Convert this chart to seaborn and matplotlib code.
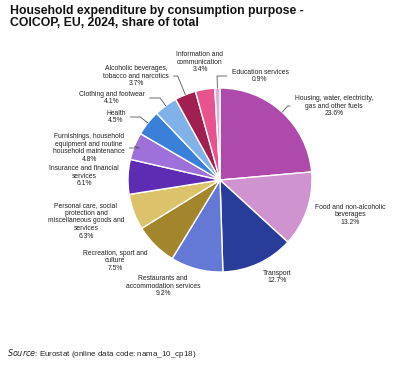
import numpy as np
import seaborn as sns
import matplotlib.pyplot as plt

# Data (clockwise from 12 o'clock)
categories = [
    "Housing, water, electricity,\ngas and other fuels",
    "Food and non-alcoholic\nbeverages",
    "Transport",
    "Restaurants and\naccommodation services",
    "Recreation, sport and\nculture",
    "Personal care, social\nprotection and\nmiscellaneous goods and\nservices",
    "Insurance and financial\nservices",
    "Furnishings, household\nequipment and routine\nhousehold maintenance",
    "Health",
    "Clothing and footwear",
    "Alcoholic beverages,\ntobacco and narcotics",
    "Information and\ncommunication",
    "Education services",
]
shares = [23.6, 13.2, 12.7, 9.2, 7.5, 6.3, 6.1, 4.8, 4.5, 4.1, 3.7, 3.4, 0.9]
colors = ["#ad4aab", "#cf93cf", "#283c99", "#6479d5", "#a3852c", "#dcc36b",
          "#5e2bb3", "#9e70da", "#3a7fd8", "#80b1e8", "#a11f50", "#e8528d",
          "#d9b0dc"]

# label centres in pixels (x, y from top) and whether a leader line is drawn
label_px = [(334, 106), (350, 215), (277, 277), (163, 286), (115, 261),
            (86, 221), (84, 176), (89, 148), (116, 117), (112, 98),
            (136, 76), (200, 62), (260, 76)]
leader = [True, False, False, False, False, False, False, True, True, True,
          True, False, True]

sns.set_theme(style="white")
plt.rcParams['font.family'] = ['Liberation Sans', 'DejaVu Sans']

W, H = 419, 365
cx, cy, R = 220, 180, 92
fs = 4.9

fig = plt.figure(figsize=(W / 100, H / 100), dpi=100)
ax = fig.add_axes([0, 0, 1, 1])

wedges, _ = ax.pie(shares, colors=colors, startangle=90, counterclock=False,
                   radius=1.0, wedgeprops=dict(edgecolor='white', linewidth=1))

ax.set_aspect('auto')
ax.set_xlim(-cx / R, (W - cx) / R)
ax.set_ylim((cy - H) / R, cy / R)
ax.axis('off')


def to_data(px, py):
    return (px - cx) / R, (cy - py) / R


for w, cat, val, (px, py), has_line in zip(wedges, categories, shares,
                                           label_px, leader):
    text = f"{cat}\n{val:.1f}%"
    tx, ty = to_data(px, py)
    if has_line:
        ang = np.deg2rad((w.theta1 + w.theta2) / 2)
        xy = (1.0 * np.cos(ang), 1.0 * np.sin(ang))
        right = tx < 0
        ax.annotate(text, xy=xy, xytext=(tx, ty), ha='center', va='center',
                    fontsize=fs, color='#222222', linespacing=1.15,
                    arrowprops=dict(arrowstyle='-', color='#555555', lw=0.6,
                                    shrinkA=1, shrinkB=0,
                                    relpos=(1.0, 0.5) if right else (0.0, 0.5),
                                    connectionstyle=f"angle,angleA=0,angleB={np.rad2deg(ang):.1f},rad=0"))
    else:
        ax.text(tx, ty, text, ha='center', va='center', fontsize=fs,
                color='#222222', linespacing=1.15)

fig.text(10 / W, 1 - 5 / H,
         "Household expenditure by consumption purpose -\nCOICOP, EU, 2024, share of total",
         ha='left', va='top', fontsize=8.8, fontweight='bold', color='#111111',
         linespacing=1.05)
fig.text(7 / W, 1 - 354 / H, r"$\it{Source}$: Eurostat (online data code: nama_10_cp18)",
         ha='left', va='center', fontsize=5.8, color='#222222')

fig.savefig("out.png", dpi=100)
